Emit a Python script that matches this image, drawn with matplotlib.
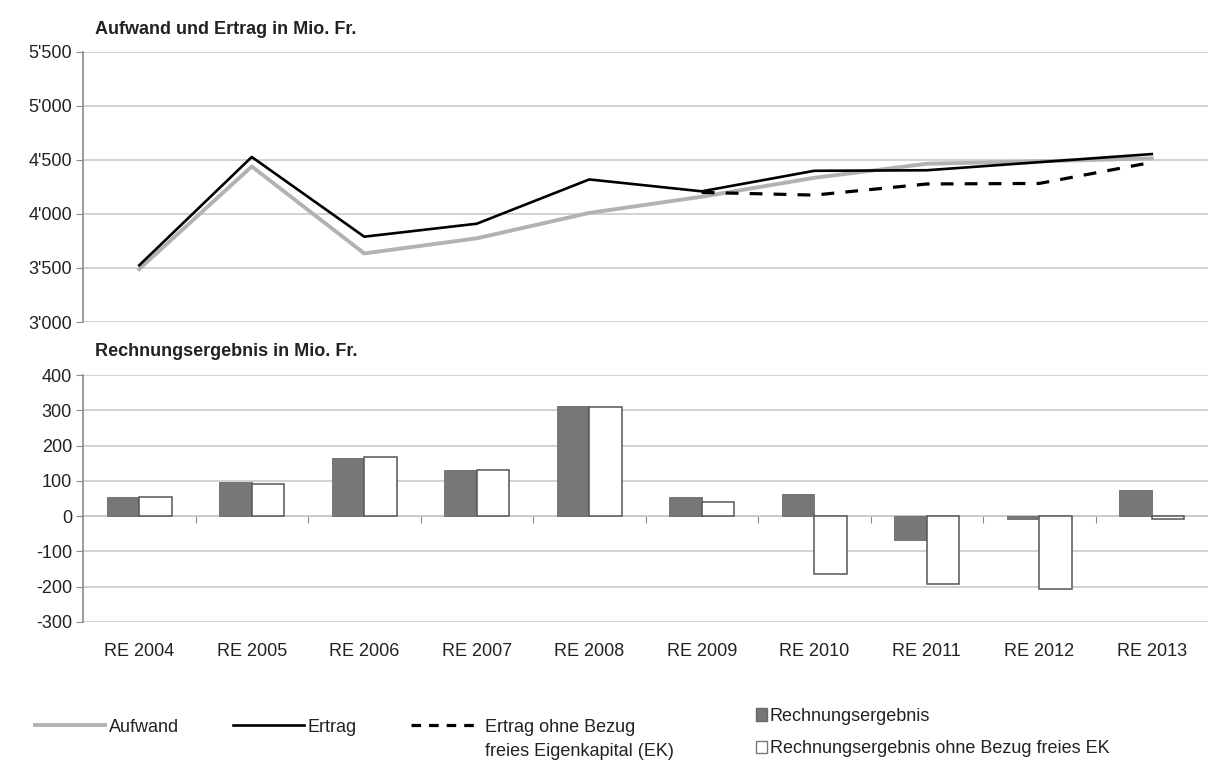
import numpy as np
import matplotlib.pyplot as plt
from matplotlib.lines import Line2D
from matplotlib.patches import Patch

plt.rcParams["font.family"] = ["Liberation Sans", "DejaVu Sans"]
plt.rcParams["axes.unicode_minus"] = False

years = ["RE 2004", "RE 2005", "RE 2006", "RE 2007", "RE 2008",
         "RE 2009", "RE 2010", "RE 2011", "RE 2012", "RE 2013"]
aufwand = [3490, 4440, 3635, 3775, 4010, 4160, 4335, 4465, 4488, 4515]
ertrag = [3525, 4528, 3790, 3910, 4320, 4210, 4400, 4405, 4480, 4555]
ertrag_ohne_ek = [None] * 5 + [4200, 4175, 4278, 4283, 4478]
re = [55, 96, 164, 131, 313, 55, 63, -67, -8, 74]
re_ohne_ek = [55, 90, 167, 130, 309, 41, -163, -192, -206, -7]

GRID = "#cfcfcf"
SPINE = "#8a8a8a"
TXT = "#222222"
GREY_LINE = "#b2b2b2"
x = np.arange(len(years))

fig = plt.figure(figsize=(12.08, 7.62), dpi=100)
W, H = 1208, 762

# top panel: Aufwand und Ertrag
ax1 = fig.add_axes([83 / W, 1 - 322 / H, (W - 83) / W, 270 / H])
ax1.plot(x, aufwand, color=GREY_LINE, lw=2.8)
ax1.plot(x, ertrag, color="black", lw=1.9)
y_ohne = np.array([np.nan if v is None else v for v in ertrag_ohne_ek], dtype=float)
ax1.plot(x, y_ohne, color="black", lw=2.3, ls=(0, (4, 3.5)))
ax1.set_xlim(-0.5, 9.5)
ax1.set_ylim(3000, 5500)
ax1.set_yticks(range(3000, 5501, 500))
ax1.set_yticklabels([f"{v // 1000}'{v % 1000:03d}" for v in range(3000, 5501, 500)])
ax1.set_xticks([])
ax1.grid(axis="y", color=GRID, lw=1.3)
ax1.set_axisbelow(True)
for s in ["top", "right", "bottom"]:
    ax1.spines[s].set_visible(False)
ax1.spines["left"].set_color(SPINE)
ax1.spines["left"].set_linewidth(1.2)
ax1.tick_params(axis="y", length=5, color=SPINE, labelsize=13, colors=TXT, pad=3)

# bottom panel: Rechnungsergebnis
ax2 = fig.add_axes([83 / W, 1 - 622 / H, (W - 83) / W, 247 / H])
bw = 0.29
ax2.bar(x - bw / 2, re, width=bw, color="#777777", edgecolor="#6a6a6a", lw=0.6)
ax2.bar(x + bw / 2, re_ohne_ek, width=bw, color="white", edgecolor="#555555", lw=1.1)
ax2.set_xlim(-0.5, 9.5)
ax2.set_ylim(-300, 400)
ax2.set_yticks(range(-300, 401, 100))
ax2.grid(axis="y", color=GRID, lw=1.3)
ax2.set_axisbelow(True)
for s in ["top", "right", "bottom"]:
    ax2.spines[s].set_visible(False)
ax2.spines["left"].set_color(SPINE)
ax2.spines["left"].set_linewidth(1.2)
ax2.tick_params(axis="y", length=5, color=SPINE, labelsize=13, colors=TXT, pad=3)
ax2.set_xticks(x)
ax2.set_xticklabels(years)
ax2.tick_params(axis="x", length=0, pad=15, labelsize=13, colors=TXT)

# category axis drawn on the zero line
zero = ax2.secondary_xaxis(300 / 700)
zero.set_xticks(np.arange(0.5, 9.5, 1.0))
zero.set_xticklabels([])
zero.tick_params(axis="x", direction="out", length=5, color=SPINE)
zero.spines["bottom"].set_color(SPINE)
zero.spines["bottom"].set_linewidth(1.2)

fig.text(95 / W, 1 - 30 / H, "Aufwand und Ertrag in Mio. Fr.", fontsize=13,
         fontweight="bold", va="center", color=TXT)
fig.text(95 / W, 1 - 352 / H, "Rechnungsergebnis in Mio. Fr.", fontsize=13,
         fontweight="bold", va="center", color=TXT)

# legends
line_handles = [
    Line2D([], [], color=GREY_LINE, lw=2.8),
    Line2D([], [], color="black", lw=1.9),
    Line2D([], [], color="black", lw=2.3, ls=(0, (3, 2.5))),
]
leg1 = fig.legend(line_handles, ["Aufwand", "Ertrag", "Ertrag ohne Bezug"],
                  loc="center left", bbox_to_anchor=(35 / W, 1 - 727 / H),
                  ncol=3, frameon=False, fontsize=13, handlelength=3.9,
                  handletextpad=0.2, columnspacing=3.0, borderpad=0,
                  borderaxespad=0)
for t in leg1.get_texts():
    t.set_color(TXT)

bar_handles = [
    Patch(facecolor="#777777", edgecolor="#6a6a6a"),
    Patch(facecolor="white", edgecolor="#777777"),
]
leg2 = fig.legend(bar_handles, ["Rechnungsergebnis",
                                "Rechnungsergebnis ohne Bezug freies EK"],
                  loc="upper left", bbox_to_anchor=(756 / W, 1 - 708 / H),
                  frameon=False, fontsize=13, handlelength=0.6,
                  handleheight=0.7, handletextpad=0.15, labelspacing=0.85,
                  borderpad=0, borderaxespad=0)
for t in leg2.get_texts():
    t.set_color(TXT)

# second line of the dashed entry, placed under its label
fig.canvas.draw()
bb = leg1.get_texts()[2].get_window_extent()
fig.text(bb.x0 / fig.bbox.width, 1 - 751 / H, "freies Eigenkapital (EK)",
         fontsize=13, va="center", color=TXT)

fig.savefig("out.png", dpi=100)
